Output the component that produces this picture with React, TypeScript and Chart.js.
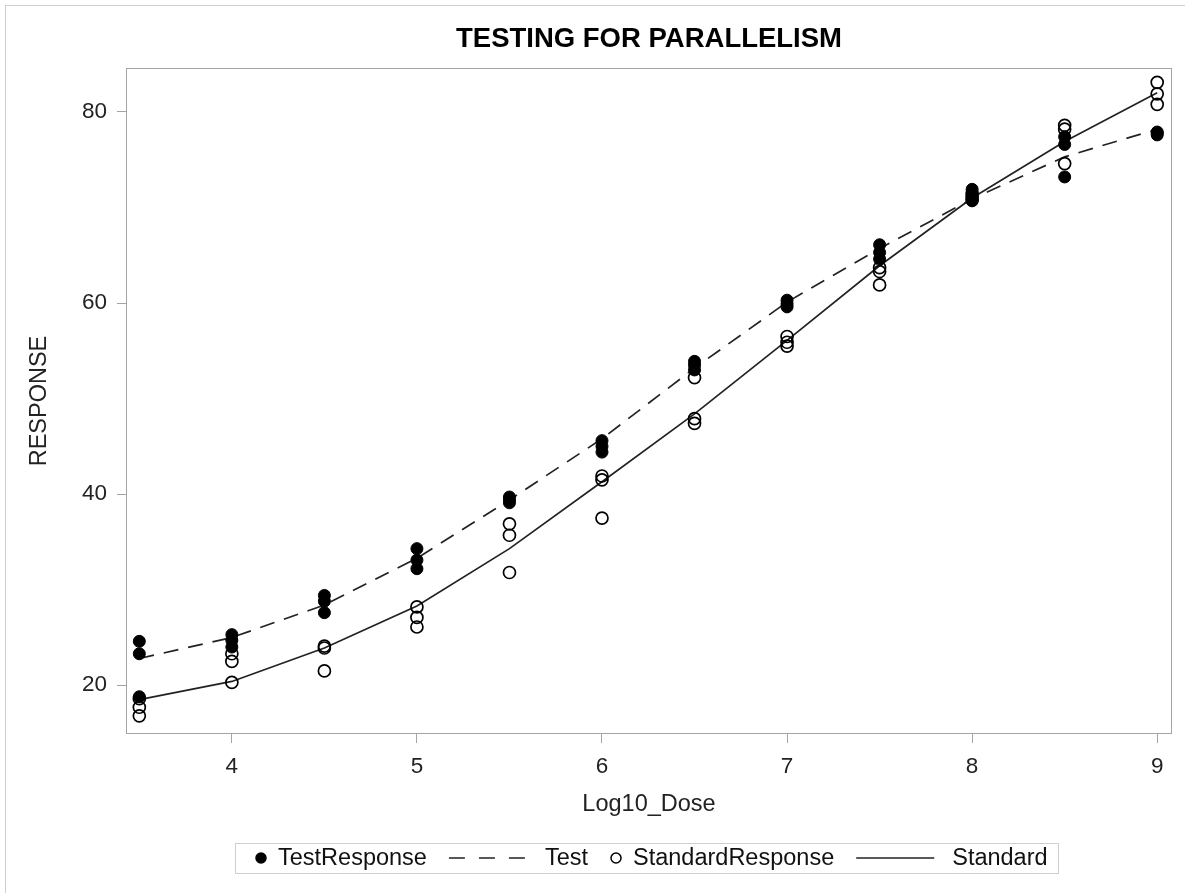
import React, { useEffect, useRef } from "react";
import { Chart, registerables } from "chart.js";

Chart.register(...registerables);

const CHART_TITLE = "TESTING FOR PARALLELISM";
const X_LABEL = "Log10_Dose";
const Y_LABEL = "RESPONSE";

const DOSES = [3.5, 4, 4.5, 5, 5.5, 6, 6.5, 7, 7.5, 8, 8.5, 9];

const TEST_RESPONSE = [
  [24.6, 23.3, 18.8],
  [25.3, 24.7, 24.0],
  [29.4, 28.8, 27.6],
  [34.3, 33.1, 32.2],
  [39.7, 39.4, 39.1],
  [45.6, 45.0, 44.4],
  [53.9, 53.5, 53.0],
  [60.3, 59.9, 59.6],
  [66.1, 65.3, 64.6],
  [71.9, 71.3, 70.7],
  [77.4, 76.6, 73.2],
  [77.9, 77.8, 77.6],
];

const STANDARD_RESPONSE = [
  [18.6, 17.7, 16.8],
  [23.3, 22.5, 20.3],
  [24.1, 23.9, 21.5],
  [28.2, 27.1, 26.1],
  [36.9, 35.7, 31.8],
  [41.9, 41.5, 37.5],
  [52.2, 47.9, 47.4],
  [56.5, 55.9, 55.5],
  [63.7, 63.3, 61.9],
  [71.5, 71.1, 70.8],
  [78.6, 78.2, 74.6],
  [83.1, 81.9, 80.8],
];

const TEST_FIT = [22.8, 25.0, 28.4, 33.3, 39.4, 45.8, 53.2, 60.1, 65.7, 70.9, 75.3, 78.2];
const STANDARD_FIT = [18.5, 20.4, 23.9, 28.3, 34.3, 41.3, 48.4, 56.1, 63.9, 71.0, 76.9, 82.0];

const X_TICKS = [4, 5, 6, 7, 8, 9];
const Y_TICKS = [20, 40, 60, 80];
const X_MIN = 3.428;
const X_MAX = 9.08;
const Y_MIN = 14.9;
const Y_MAX = 84.6;

const FONT_FAMILY = '"Liberation Sans", Arial, Helvetica, sans-serif';

const toPoints = (rows: number[][]) =>
  DOSES.flatMap((d, i) => rows[i].map((v) => ({ x: d, y: v })));
const toLine = (vals: number[]) => DOSES.map((d, i) => ({ x: d, y: vals[i] }));

const framePlugin = {
  id: "frame",
  beforeDraw(chart: any) {
    const { ctx, width, height } = chart;
    ctx.save();
    ctx.fillStyle = "#ffffff";
    ctx.fillRect(0, 0, width, height);
    ctx.strokeStyle = "#cfcfcf";
    ctx.lineWidth = 1;
    ctx.strokeRect(5.5, 5.5, width + 20, height + 20);
    ctx.restore();
  },
  beforeDatasetsDraw(chart: any) {
    const { ctx, chartArea } = chart;
    ctx.save();
    ctx.strokeStyle = "#a4a4a4";
    ctx.lineWidth = 1;
    ctx.strokeRect(
      Math.round(chartArea.left) + 0.5,
      Math.round(chartArea.top) + 0.5,
      Math.round(chartArea.right - chartArea.left) - 1,
      Math.round(chartArea.bottom - chartArea.top) - 1
    );
    ctx.restore();
  },
};

const legendPlugin = {
  id: "customLegend",
  afterDraw(chart: any) {
    const { ctx, chartArea } = chart;
    ctx.save();
    ctx.font = `23.5px ${FONT_FAMILY}`;
    const items = chart.data.datasets.map((ds: any) => ({
      label: ds.label as string,
      kind: ds.type === "line" ? "line" : "marker",
      ds,
    }));
    const padL = 20,
      padR = 10,
      mk = 12,
      mkGap = 11,
      itemGap = 22,
      lineLen = 78,
      lineGap = 18;
    let w = padL + padR;
    items.forEach((it: any, i: number) => {
      w += (it.kind === "line" ? lineLen + lineGap : mk + mkGap) + ctx.measureText(it.label).width;
      if (i > 0) w += itemGap;
    });
    const cx = (chartArea.left + chartArea.right) / 2 - 3;
    const left = Math.round(cx - w / 2);
    const top = 843;
    const h = 30;
    const cy = top + h / 2;
    ctx.strokeStyle = "#cfcfcf";
    ctx.lineWidth = 1;
    ctx.strokeRect(left + 0.5, top + 0.5, Math.round(w), h);
    let x = left + padL;
    ctx.textBaseline = "middle";
    ctx.textAlign = "left";
    items.forEach((it: any, i: number) => {
      if (i > 0) x += itemGap;
      const ds = it.ds;
      if (it.kind === "marker") {
        ctx.beginPath();
        ctx.arc(x + mk / 2, cy, 5, 0, Math.PI * 2);
        ctx.lineWidth = 1.5;
        ctx.strokeStyle = "#000";
        if (ds.backgroundColor && ds.backgroundColor !== "rgba(0,0,0,0)") {
          ctx.fillStyle = ds.backgroundColor;
          ctx.fill();
        }
        ctx.stroke();
        x += mk + mkGap;
      } else {
        ctx.beginPath();
        ctx.setLineDash(ds.borderDash ? [16, 14] : []);
        ctx.strokeStyle = ds.borderColor;
        ctx.lineWidth = ds.borderWidth;
        ctx.moveTo(x, cy);
        ctx.lineTo(x + (ds.borderDash ? 76 : lineLen), cy);
        ctx.stroke();
        ctx.setLineDash([]);
        x += lineLen + lineGap;
      }
      ctx.fillStyle = "#111";
      ctx.fillText(it.label, x, cy + 1);
      x += ctx.measureText(it.label).width;
    });
    ctx.restore();
  },
};

export default function App() {
  const canvasRef = useRef<HTMLCanvasElement | null>(null);

  useEffect(() => {
    if (!canvasRef.current) return;
    Chart.defaults.font.family = FONT_FAMILY;
    const chart = new Chart(canvasRef.current, {
      type: "scatter",
      data: {
        datasets: [
          {
            type: "scatter",
            label: "TestResponse",
            data: toPoints(TEST_RESPONSE),
            pointStyle: "circle",
            pointRadius: 6,
            pointBackgroundColor: "#000",
            pointBorderColor: "#000",
            backgroundColor: "#000",
            borderColor: "#000",
            pointBorderWidth: 1,
            order: 1,
          } as any,
          {
            type: "line",
            label: "Test",
            data: toLine(TEST_FIT),
            borderColor: "#222",
            borderWidth: 1.7,
            borderDash: [15, 10],
            pointRadius: 0,
            tension: 0,
            fill: false,
            order: 3,
          } as any,
          {
            type: "scatter",
            label: "StandardResponse",
            data: toPoints(STANDARD_RESPONSE),
            pointStyle: "circle",
            pointRadius: 6,
            pointBackgroundColor: "rgba(0,0,0,0)",
            pointBorderColor: "#000",
            backgroundColor: "rgba(0,0,0,0)",
            borderColor: "#000",
            pointBorderWidth: 1.7,
            order: 2,
          } as any,
          {
            type: "line",
            label: "Standard",
            data: toLine(STANDARD_FIT),
            borderColor: "#222",
            borderWidth: 1.7,
            pointRadius: 0,
            tension: 0,
            fill: false,
            order: 4,
          } as any,
        ],
      },
      options: {
        animation: false,
        responsive: true,
        maintainAspectRatio: false,
        layout: { padding: { left: 0, right: 13, top: 0, bottom: 69 } },
        plugins: {
          legend: { display: false },
          tooltip: { enabled: false },
          title: {
            display: true,
            fullSize: false,
            text: CHART_TITLE,
            color: "#000",
            font: { size: 27.5, weight: "bold", family: FONT_FAMILY, lineHeight: 1.2 },
            padding: { top: 23, bottom: 12 },
          },
        },
        scales: {
          x: {
            type: "linear",
            min: X_MIN,
            max: X_MAX,
            afterBuildTicks: (scale: any) => {
              scale.ticks = X_TICKS.map((v) => ({ value: v }));
            },
            afterFit: (scale: any) => {
              scale.height = 90;
            },
            ticks: {
              color: "#222",
              font: { size: 22.5, family: FONT_FAMILY },
              padding: 10,
              maxRotation: 0,
              autoSkip: false,
            },
            grid: {
              drawOnChartArea: false,
              drawTicks: true,
              tickLength: 9,
              tickColor: "#a4a4a4",
              color: "#a4a4a4",
            },
            border: { display: false },
            title: {
              display: true,
              text: X_LABEL,
              color: "#222",
              font: { size: 23.5, family: FONT_FAMILY, lineHeight: 1.2 },
              padding: { top: 0, bottom: 5 },
            },
          },
          y: {
            type: "linear",
            min: Y_MIN,
            max: Y_MAX,
            afterBuildTicks: (scale: any) => {
              scale.ticks = Y_TICKS.map((v) => ({ value: v }));
            },
            afterFit: (scale: any) => {
              scale.width = 126;
            },
            ticks: {
              color: "#222",
              font: { size: 22.5, family: FONT_FAMILY },
              padding: 10,
              autoSkip: false,
            },
            grid: {
              drawOnChartArea: false,
              drawTicks: true,
              tickLength: 9,
              tickColor: "#a4a4a4",
              color: "#a4a4a4",
            },
            border: { display: false },
            title: {
              display: true,
              text: Y_LABEL,
              color: "#222",
              font: { size: 23.5, family: FONT_FAMILY, lineHeight: 1.2 },
              padding: { top: 25, bottom: 0 },
            },
          },
        },
      },
      plugins: [framePlugin, legendPlugin],
    } as any);
    return () => chart.destroy();
  }, []);

  return (
    <div style={{ position: "absolute", left: 0, top: 0, width: 1185, height: 893 }}>
      <canvas ref={canvasRef} />
    </div>
  );
}
